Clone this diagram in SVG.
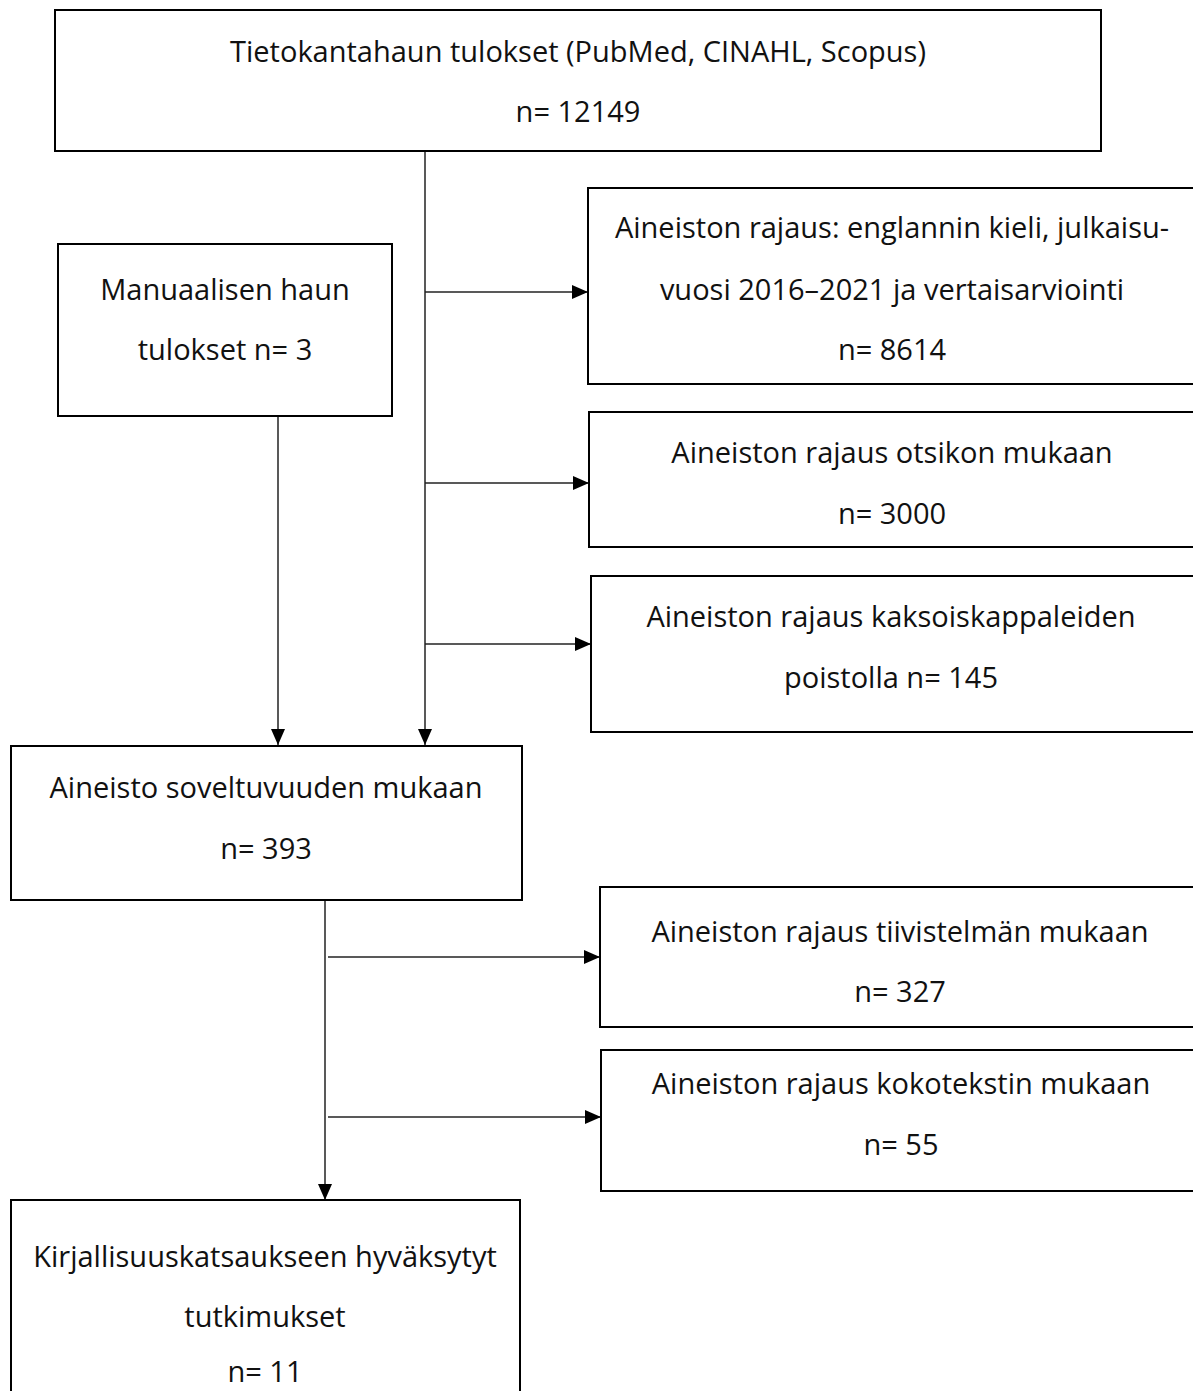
<svg xmlns="http://www.w3.org/2000/svg" width="1193" height="1391" viewBox="0 0 1193 1391">
<defs>
<marker id="ah" markerWidth="16" markerHeight="14" refX="16" refY="7" orient="auto" markerUnits="userSpaceOnUse">
<path d="M0,0 L16,7 L0,14 Z" fill="#000"/>
</marker>
<style>
.box{fill:#fff;stroke:#000;stroke-width:2}
.t{font-family:"Open Sans","Noto Sans",sans-serif;font-size:29px;fill:#111;text-anchor:middle}
.c{fill:none;stroke:#222;stroke-width:1.5}
</style>
</defs>
<rect width="1193" height="1391" fill="#fff"/>
<g id="connectors">
<path class="c" d="M425,151 V745" marker-end="url(#ah)"/>
<path class="c" d="M278,416 V745" marker-end="url(#ah)"/>
<path class="c" d="M425,292 H588" marker-end="url(#ah)"/>
<path class="c" d="M425,483 H589" marker-end="url(#ah)"/>
<path class="c" d="M425,644 H591" marker-end="url(#ah)"/>
<path class="c" d="M325,900 V1200" marker-end="url(#ah)"/>
<path class="c" d="M328,957 H600" marker-end="url(#ah)"/>
<path class="c" d="M328,1117 H601" marker-end="url(#ah)"/>
</g>
<g id="n1"><rect class="box" x="55" y="10" width="1046" height="141"/>
<text class="t" x="578" y="62">Tietokantahaun tulokset (PubMed, CINAHL, Scopus)</text>
<text class="t" x="578" y="122">n= 12149</text></g>
<g id="n2"><rect class="box" x="58" y="244" width="334" height="172"/>
<text class="t" x="225" y="300">Manuaalisen haun</text>
<text class="t" x="225" y="360">tulokset n= 3</text></g>
<g id="n3"><rect class="box" x="588" y="188" width="608" height="196"/>
<text class="t" x="892" y="238">Aineiston rajaus: englannin kieli, julkaisu-</text>
<text class="t" x="892" y="300">vuosi 2016–2021 ja vertaisarviointi</text>
<text class="t" x="892" y="360">n= 8614</text></g>
<g id="n4"><rect class="box" x="589" y="412" width="608" height="135"/>
<text class="t" x="892" y="463">Aineiston rajaus otsikon mukaan</text>
<text class="t" x="892" y="524">n= 3000</text></g>
<g id="n5"><rect class="box" x="591" y="576" width="606" height="156"/>
<text class="t" x="891" y="627">Aineiston rajaus kaksoiskappaleiden</text>
<text class="t" x="891" y="688">poistolla n= 145</text></g>
<g id="n6"><rect class="box" x="11" y="746" width="511" height="154"/>
<text class="t" x="266" y="798">Aineisto soveltuvuuden mukaan</text>
<text class="t" x="266" y="859">n= 393</text></g>
<g id="n7"><rect class="box" x="600" y="887" width="598" height="140"/>
<text class="t" x="900" y="942">Aineiston rajaus tiivistelmän mukaan</text>
<text class="t" x="900" y="1002">n= 327</text></g>
<g id="n8"><rect class="box" x="601" y="1050" width="598" height="141"/>
<text class="t" x="901" y="1094">Aineiston rajaus kokotekstin mukaan</text>
<text class="t" x="901" y="1155">n= 55</text></g>
<g id="n9"><rect class="box" x="11" y="1200" width="509" height="200"/>
<text class="t" x="265" y="1267">Kirjallisuuskatsaukseen hyväksytyt</text>
<text class="t" x="265" y="1327">tutkimukset</text>
<text class="t" x="265" y="1382">n= 11</text></g>
</svg>
